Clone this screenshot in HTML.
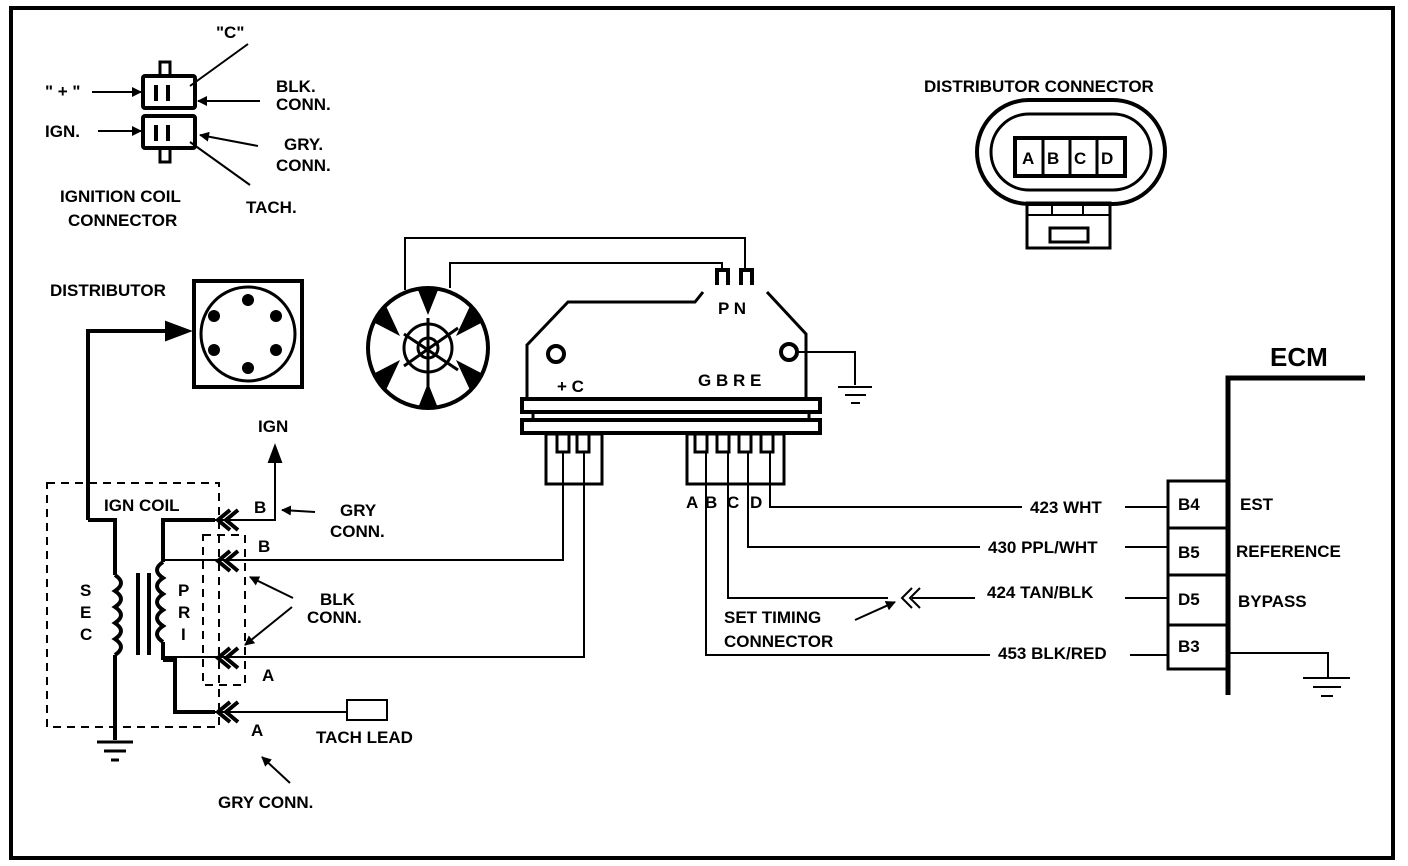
<!DOCTYPE html>
<html><head><meta charset="utf-8"><style>
html,body{margin:0;padding:0;background:#fff}
svg{display:block}
text{font-family:"Liberation Sans",sans-serif;font-weight:bold;fill:#000}
</style></head><body>
<svg width="1408" height="866" viewBox="0 0 1408 866" xmlns="http://www.w3.org/2000/svg">
<rect x="0" y="0" width="1408" height="866" fill="#fff"/>
<rect x="11" y="8" width="1382" height="850" fill="none" stroke="#000" stroke-width="4"/>
<defs>
<marker id="ar" markerWidth="10" markerHeight="10" refX="9" refY="5" orient="auto" markerUnits="userSpaceOnUse"><path d="M0,0 L10,5 L0,10 z" fill="#000"/></marker>
</defs>
<g stroke="#000" fill="none" stroke-width="2">
<rect x="143" y="76" width="52" height="32" stroke-width="4" rx="2"/>
<rect x="143" y="116" width="52" height="32" stroke-width="4" rx="2"/>
<rect x="160" y="62" width="10" height="14" stroke-width="3"/>
<rect x="160" y="148" width="10" height="14" stroke-width="3"/>
<line x1="156" y1="85" x2="156" y2="101" stroke-width="4"/>
<line x1="168" y1="85" x2="168" y2="101" stroke-width="4"/>
<line x1="156" y1="125" x2="156" y2="141" stroke-width="4"/>
<line x1="168" y1="125" x2="168" y2="141" stroke-width="4"/>
<line x1="92" y1="92" x2="141" y2="92" marker-end="url(#ar)"/>
<line x1="98" y1="131" x2="141" y2="131" marker-end="url(#ar)"/>
<line x1="260" y1="101" x2="198" y2="101" marker-end="url(#ar)"/>
<line x1="258" y1="146" x2="200" y2="135" marker-end="url(#ar)"/>
<line x1="248" y1="44" x2="190" y2="86"/>
<line x1="250" y1="185" x2="190" y2="142"/>
<rect x="194" y="281" width="108" height="106" stroke-width="4"/>
<circle cx="248" cy="334" r="47" stroke-width="3"/>
<g fill="#000" stroke="none">
<circle cx="248" cy="300" r="6"/><circle cx="276" cy="316" r="6"/><circle cx="276" cy="350" r="6"/>
<circle cx="248" cy="368" r="6"/><circle cx="214" cy="350" r="6"/><circle cx="214" cy="316" r="6"/>
</g>
<polyline points="88,520 88,331 168,331" stroke-width="4"/>
<path d="M166,322 L190,331 L166,340 z" fill="#000"/>
<circle cx="428" cy="348" r="60" stroke-width="4"/>
<circle cx="428" cy="348" r="10" stroke-width="3"/>
<circle cx="428" cy="348" r="24" stroke-width="3"/>
<line x1="428" y1="318" x2="428" y2="408" stroke-width="3"/>
<line x1="404" y1="334" x2="458" y2="370" stroke-width="3"/>
<line x1="404" y1="366" x2="458" y2="328" stroke-width="3"/>
<g fill="#000" stroke="none">
<path d="M418,290 L438,290 L428,315 z"/><path d="M418,408 L438,408 L428,383 z"/>
<path d="M373,322 L386,306 L400,336 z"/><path d="M483,322 L470,306 L456,336 z"/>
<path d="M373,374 L386,390 L400,360 z"/><path d="M483,374 L470,390 L456,360 z"/>
</g>
<polyline points="405,290 405,238 745,238 745,270" stroke-width="2"/>
<polyline points="450,288 450,263 722,263 722,270" stroke-width="2"/>
<path d="M717,285 L717,270 L728,270 L728,285 M741,285 L741,270 L752,270 L752,285" stroke-width="4"/>
<polyline points="527,398 527,345 568,302 695,302 703,292" stroke-width="3"/>
<polyline points="767,292 806,334 806,398" stroke-width="3"/>
<circle cx="556" cy="354" r="8" stroke-width="4"/>
<circle cx="789" cy="352" r="8" stroke-width="4"/>
<polyline points="797,352 855,352 855,385" stroke-width="2"/>
<line x1="838" y1="387" x2="872" y2="387"/><line x1="845" y1="395" x2="866" y2="395"/><line x1="851" y1="403" x2="860" y2="403"/>
<rect x="522" y="399" width="298" height="13" stroke-width="4"/>
<rect x="522" y="420" width="298" height="13" stroke-width="4"/>
<line x1="533" y1="412" x2="533" y2="420" stroke-width="3"/><line x1="809" y1="412" x2="809" y2="420" stroke-width="3"/>
<rect x="546" y="434" width="56" height="50" stroke-width="3"/>
<path d="M557,434 L557,452 L569,452 L569,434 M577,434 L577,452 L589,452 L589,434" stroke-width="3"/>
<rect x="687" y="434" width="97" height="50" stroke-width="3"/>
<path d="M695,434 L695,452 L707,452 L707,434 M717,434 L717,452 L729,452 L729,434 M739,434 L739,452 L751,452 L751,434 M761,434 L761,452 L773,452 L773,434" stroke-width="3"/>
<polyline points="563,452 563,560 165,560" stroke-width="2"/>
<polyline points="584,452 584,657 165,657" stroke-width="2"/>
<polyline points="706,452 706,655 990,655"/>
<line x1="1130" y1="655" x2="1168" y2="655"/>
<polyline points="728,452 728,598 888,598"/>
<line x1="912" y1="598" x2="975" y2="598"/>
<line x1="1125" y1="598" x2="1168" y2="598"/>
<polyline points="748,452 748,547 980,547"/>
<line x1="1125" y1="547" x2="1168" y2="547"/>
<polyline points="770,452 770,507 1022,507"/>
<line x1="1125" y1="507" x2="1168" y2="507"/>
<path d="M912,588 L902,598 L912,608 M920,588 L910,598 L920,608" stroke-width="2"/>
<line x1="855" y1="620" x2="895" y2="602" marker-end="url(#ar)"/>
<rect x="977" y="100" width="188" height="104" rx="52" stroke-width="4"/>
<rect x="991" y="114" width="160" height="76" rx="38" stroke-width="3"/>
<rect x="1015" y="138" width="110" height="38" stroke-width="4"/>
<line x1="1043" y1="138" x2="1043" y2="176" stroke-width="3"/><line x1="1070" y1="138" x2="1070" y2="176" stroke-width="3"/><line x1="1097" y1="138" x2="1097" y2="176" stroke-width="3"/>
<rect x="1027" y="203" width="83" height="45" stroke-width="3"/>
<line x1="1027" y1="215" x2="1110" y2="215" stroke-width="2"/>
<line x1="1052" y1="203" x2="1052" y2="215" stroke-width="2"/><line x1="1083" y1="203" x2="1083" y2="215" stroke-width="2"/>
<rect x="1050" y="228" width="38" height="14" stroke-width="3"/>
<polyline points="1228,695 1228,378 1365,378" stroke-width="5"/>
<rect x="1168" y="481" width="61" height="188" stroke-width="3"/>
<line x1="1168" y1="528" x2="1229" y2="528" stroke-width="3"/>
<line x1="1168" y1="575" x2="1229" y2="575" stroke-width="3"/>
<line x1="1168" y1="625" x2="1229" y2="625" stroke-width="3"/>
<polyline points="1230,653 1328,653 1328,678"/>
<line x1="1303" y1="678" x2="1350" y2="678"/><line x1="1313" y1="687" x2="1341" y2="687"/><line x1="1321" y1="696" x2="1333" y2="696"/>
<rect x="47" y="483" width="172" height="244" stroke-width="2" stroke-dasharray="8,6"/>
<rect x="203" y="535" width="42" height="150" stroke-width="2" stroke-dasharray="8,6"/>
<polyline points="88,520 115,520 115,575" stroke-width="4"/>
<path d="M115,575 q12,8 0,16 q12,8 0,16 q12,8 0,16 q12,8 0,16 q12,8 0,16" stroke-width="4"/>
<line x1="115" y1="655" x2="115" y2="740" stroke-width="4"/>
<line x1="97" y1="742" x2="133" y2="742" stroke-width="3"/><line x1="104" y1="751" x2="126" y2="751" stroke-width="3"/><line x1="111" y1="760" x2="119" y2="760" stroke-width="3"/>
<line x1="138" y1="573" x2="138" y2="655" stroke-width="4"/><line x1="149" y1="573" x2="149" y2="655" stroke-width="4"/>
<polyline points="215,520 163,520 163,562" stroke-width="4"/>
<path d="M163,562 q-12,8 0,16 q-12,8 0,16 q-12,8 0,16 q-12,8 0,16 q-12,8 0,16" stroke-width="4"/>
<line x1="163" y1="642" x2="163" y2="660" stroke-width="4"/>
<polyline points="163,660 175,660 175,712 215,712" stroke-width="4"/>
<polyline points="215,520 275,520 275,450" stroke-width="2"/>
<path d="M269,462 L275,446 L281,462 z" fill="#000"/>
<line x1="315" y1="512" x2="282" y2="510" marker-end="url(#ar)"/>
<line x1="215" y1="712" x2="347" y2="712"/>
<rect x="347" y="700" width="40" height="20" stroke-width="2"/>
<line x1="290" y1="783" x2="262" y2="757" marker-end="url(#ar)"/>
<line x1="293" y1="598" x2="250" y2="577" marker-end="url(#ar)"/>
<line x1="292" y1="607" x2="245" y2="645" marker-end="url(#ar)"/>
<g stroke-width="4">
<path d="M230,510 L218,520 L230,530 M238,510 L226,520 L238,530"/>
<path d="M230,551 L218,561 L230,571 M238,551 L226,561 L238,571"/>
<path d="M230,648 L218,658 L230,668 M238,648 L226,658 L238,668"/>
<path d="M230,702 L218,712 L230,722 M238,702 L226,712 L238,722"/>
</g>
</g>
<g font-size="17">
<text x="216" y="38">"C"</text>
<text x="45" y="97">" + "</text>
<text x="45" y="137">IGN.</text>
<text x="276" y="92">BLK.</text>
<text x="276" y="110">CONN.</text>
<text x="284" y="150">GRY.</text>
<text x="276" y="171">CONN.</text>
<text x="60" y="202">IGNITION COIL</text>
<text x="68" y="226">CONNECTOR</text>
<text x="246" y="213">TACH.</text>
<text x="50" y="296">DISTRIBUTOR</text>
<text x="924" y="92">DISTRIBUTOR CONNECTOR</text>
<text x="1022" y="164">A</text><text x="1047" y="164">B</text><text x="1074" y="164">C</text><text x="1101" y="164">D</text>
<text x="718" y="314">P N</text>
<text x="557" y="392">+ C</text>
<text x="698" y="386">G B R E</text>
<text x="258" y="432">IGN</text>
<text x="104" y="511">IGN COIL</text>
<text x="254" y="513">B</text>
<text x="340" y="516">GRY</text>
<text x="330" y="537">CONN.</text>
<text x="258" y="552">B</text>
<text x="320" y="605">BLK</text>
<text x="307" y="623">CONN.</text>
<text x="262" y="681">A</text>
<text x="251" y="736">A</text>
<text x="316" y="743">TACH LEAD</text>
<text x="218" y="808">GRY CONN.</text>
<text x="686" y="508">A</text><text x="705" y="508">B</text><text x="727" y="508">C</text><text x="750" y="508">D</text>
<text x="724" y="623">SET TIMING</text>
<text x="724" y="647">CONNECTOR</text>
<text x="1030" y="513">423 WHT</text>
<text x="988" y="553">430 PPL/WHT</text>
<text x="987" y="598">424 TAN/BLK</text>
<text x="998" y="659">453 BLK/RED</text>
<text x="1178" y="510">B4</text><text x="1178" y="558">B5</text><text x="1178" y="605">D5</text><text x="1178" y="652">B3</text>
<text x="1240" y="510">EST</text>
<text x="1236" y="557">REFERENCE</text>
<text x="1238" y="607">BYPASS</text>
<text x="1270" y="366" font-size="26">ECM</text>
</g>
<g font-size="17">
<text x="80" y="596">S</text><text x="80" y="618">E</text><text x="80" y="640">C</text>
<text x="178" y="596">P</text><text x="178" y="618">R</text><text x="181" y="640">I</text>
</g>
</svg>
</body></html>
